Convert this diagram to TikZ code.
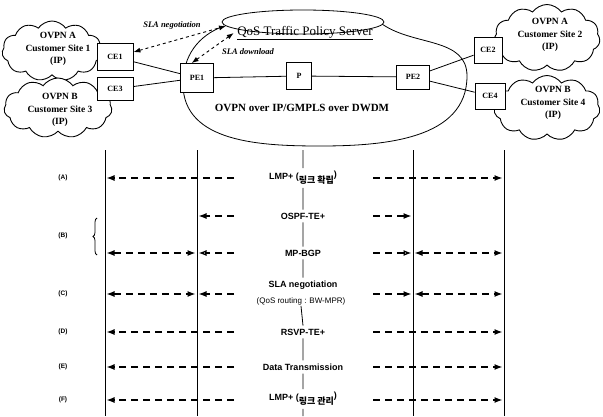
\documentclass[tikz,border=0pt]{standalone}
\usepackage{fontspec}
\setmainfont{Liberation Serif}
\setsansfont{Liberation Sans}
\newfontfamily\krfont{Noto Sans CJK KR}
\usetikzlibrary{shapes.geometric, shapes.symbols, arrows.meta, calc, decorations.pathreplacing}

\begin{document}
\begin{tikzpicture}[x=1pt, y=1pt, >=Latex]

% --- Styles ---
\tikzset{
    devBox/.style={draw=black, fill=white, line width=0.8pt, minimum width=28pt, minimum height=24pt, inner sep=1pt, font=\bfseries\fontsize{8}{9}\selectfont},
    custCloud/.style={cloud, cloud puffs=11, cloud puff arc=110, cloud ignores aspect, draw=black, fill=white, line width=0.9pt, inner sep=0pt},
    cloudText/.style={align=center, font=\bfseries\fontsize{9.5}{12.5}\selectfont},
    netLink/.style={black, line width=0.8pt},
    slaLink/.style={<->, dashed, line width=0.9pt, >={Latex[length=7pt,width=5pt]}},
    slaText/.style={font=\bfseries\itshape\fontsize{8.5}{10}\selectfont},
    lifeLine/.style={black, line width=0.8pt},
    stepText/.style={font=\sffamily\bfseries\fontsize{9}{10}\selectfont, inner sep=3pt},
    rowText/.style={font=\sffamily\bfseries\fontsize{6.5}{8}\selectfont},
    msgArrow/.style={dash pattern=on 7pt off 5pt, line width=1.3pt, shorten >=1.5pt, -{Latex[length=8pt,width=6pt]}},
    msgBoth/.style={msgArrow, shorten <=1.5pt, {Latex[length=8pt,width=6pt]}-{Latex[length=8pt,width=6pt]}},
    msgOpen/.style={msgArrow, -{Latex[open,length=8pt,width=6pt]}},
    rowBrace/.style={decorate, decoration={brace, amplitude=4pt}, line width=0.8pt},
}

\useasboundingbox (0,0) rectangle (603,416);

% --- Customer sites (drawn first, boxes sit on them) ---
\node[custCloud, minimum width=100pt, minimum height=60pt] (cloudA1) at (52,365) {};
\node[custCloud, minimum width=108pt, minimum height=60pt] (cloudB1) at (58,308) {};
\node[custCloud, minimum width=106pt, minimum height=67pt] (cloudA2) at (547,378) {};
\node[custCloud, minimum width=106pt, minimum height=65pt] (cloudB2) at (547,308) {};

\node[cloudText] (siteA1) at (58,367) {OVPN A\\Customer Site 1\\(IP)};
\node[cloudText] (siteB1) at (60,306) {OVPN B\\Customer Site 3\\(IP)};
\node[cloudText] (siteA2) at (550,381) {OVPN A\\Customer Site 2\\(IP)};
\node[cloudText] (siteB2) at (553,313) {OVPN B\\Customer Site 4\\(IP)};

% --- Backbone and policy server ---
\draw[netLink] (224,390) to[out=200,in=90] (183,332) to[out=270,in=180] (320,270)
    to[out=0,in=270] (467,340) to[out=90,in=-35] (382,392);
\node[ellipse, draw=black, fill=white, line width=0.8pt, minimum width=162pt, minimum height=24pt] (qos) at (303,394) {};
\node[font=\fontsize{13}{14}\selectfont] (qosText) at (305,383) {\underline{QoS Traffic Policy Server}};
\node[font=\bfseries\fontsize{11}{12}\selectfont] (coreText) at (302,308) {OVPN over IP/GMPLS over DWDM};

% --- Edge and core routers ---
\node[devBox, minimum width=36pt, minimum height=27pt] (ce1) at (115,359) {CE1};
\node[devBox, minimum width=36pt, minimum height=23pt] (ce3) at (115,327) {CE3};
\node[devBox, minimum width=33pt, minimum height=29pt] (pe1) at (197,338) {PE1};
\node[devBox, minimum width=25pt, minimum height=27pt] (p) at (299,340) {P};
\node[devBox, minimum width=33pt, minimum height=24pt] (pe2) at (413,339) {PE2};
\node[devBox, minimum width=28pt, minimum height=26pt] (ce2) at (488,366) {CE2};
\node[devBox, minimum width=30pt, minimum height=26pt] (ce4) at (490,320) {CE4};

\draw[netLink] (ce1) -- (pe1);
\draw[netLink] (ce3) -- (pe1);
\draw[netLink] (pe1) -- (p);
\draw[netLink] (p) -- (pe2);
\draw[netLink] (pe2) -- (ce2);
\draw[netLink] (pe2) -- (ce4);

% SLA exchange with the server
\draw[slaLink] (ce1.15) -- (qos.183);
\draw[slaLink] (pe1.110) -- (qosText.west);
\node[slaText] (slaNeg) at (172,391) {SLA negotiation};
\node[slaText] (slaDown) at (248,364) {SLA download};

% --- Signalling sequence ---
\foreach \nm/\xx in {ceL/105, peL/197, peR/413, ceR/504} {
    \coordinate (\nm) at (\xx,266);
    \coordinate (\nm-b) at (\xx,0);
    \draw[lifeLine] (\nm) -- (\nm-b);
}
\coordinate (pTop) at (303,266);
\coordinate (pBot) at (303,0);
\coordinate (srcL) at (234,0);
\coordinate (srcR) at (373,0);

\node[stepText] (lmpA) at (303,238) {LMP+ (\raisebox{-4pt}{\krfont 링크 확립}\raisebox{2pt}{)}};
\node[stepText] (ospf) at (303,200) {OSPF-TE+};
\node[stepText] (bgp) at (303,163) {MP-BGP};
\node[stepText] (slaStep) at (303,131) {SLA negotiation};
\node[stepText, font=\sffamily\fontsize{8}{9}\selectfont, inner sep=1pt] (qosRt) at (301,115) {(QoS routing : BW-MPR)};
\node[stepText] (rsvp) at (303,84) {RSVP-TE+};
\node[stepText] (dataTx) at (303,49) {Data Transmission};
\node[stepText] (lmpF) at (303,17) {LMP+ (\raisebox{-4pt}{\krfont 링크 관리}\raisebox{2pt}{)}};

\draw[lifeLine] (pTop) -- (lmpA.north) (lmpA.south) -- (ospf.north) (ospf.south) -- (bgp.north)
    (bgp.south) -- (slaStep.north) (qosRt.south) -- (rsvp.north) (rsvp.south) -- (dataTx.north)
    (dataTx.south) -- (lmpF.north) (lmpF.south) -- (pBot);

% Row labels
\node[rowText] (rowA) at (63,238) {(A)};
\node[rowText] (rowB) at (63,180) {(B)};
\node[rowText] (rowC) at (63,122) {(C)};
\node[rowText] (rowD) at (63,84) {(D)};
\node[rowText] (rowE) at (63,49) {(E)};
\node[rowText] (rowF) at (63,16) {(F)};
\draw[rowBrace] (97,161) -- (97,198);

% (A)
\draw[msgArrow] (srcL |- rowA) -- (ceL |- rowA);
\draw[msgArrow] (srcR |- rowA) -- (ceR |- rowA);
% (B)
\draw[msgArrow] (srcL |- ospf) -- (peL |- ospf);
\draw[msgArrow] (srcR |- ospf) -- (peR |- ospf);
\draw[msgOpen] (srcL |- bgp) -- (peL |- bgp);
\draw[msgOpen] (srcR |- bgp) -- (peR |- bgp);
\draw[msgBoth] (ceL |- bgp) -- (peL |- bgp);
\draw[msgBoth] (peR |- bgp) -- (ceR |- bgp);
% (C)
\draw[msgBoth] (ceL |- rowC) -- (peL |- rowC);
\draw[msgArrow] (srcL |- rowC) -- (peL |- rowC);
\draw[msgArrow] (srcR |- rowC) -- (peR |- rowC);
\draw[msgBoth] (peR |- rowC) -- (ceR |- rowC);
% (D) (E) (F)
\foreach \rw in {rowD, rowE, rowF} {
    \draw[msgArrow] (srcL |- \rw) -- (ceL |- \rw);
    \draw[msgArrow] (srcR |- \rw) -- (ceR |- \rw);
}

\end{tikzpicture}
\end{document}
